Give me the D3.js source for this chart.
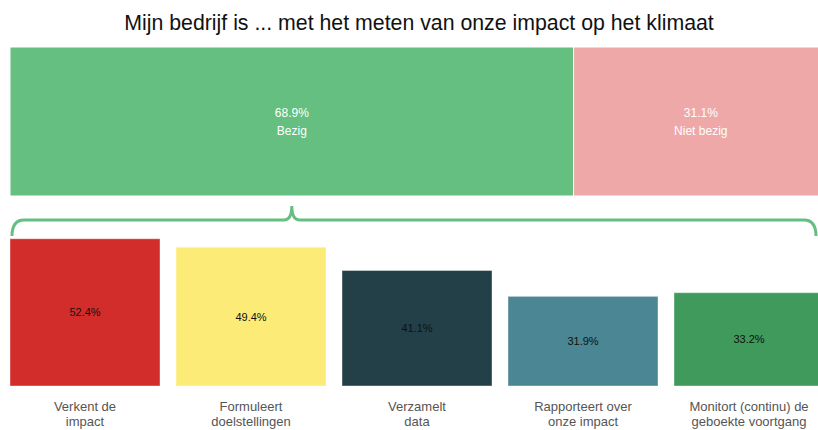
<!DOCTYPE html>
<html>
<head>
<meta charset="utf-8">
<script src="https://cdn.jsdelivr.net/npm/d3@7"></script>
<style>
  body { margin: 0; background: #fff; }
  svg { display: block; font-family: "Liberation Sans", Arial, sans-serif; }
</style>
</head>
<body>
<svg width="818" height="430"></svg>
<script>
// data
const title = 'Mijn bedrijf is ... met het meten van onze impact op het klimaat';
const splitLabels = ['Bezig', 'Niet bezig'];
const splitValues = [68.9, 31.1];
const splitColors = ['#64bf81', '#eea8a8'];

const categories = [
  ['Verkent de', 'impact'],
  ['Formuleert', 'doelstellingen'],
  ['Verzamelt', 'data'],
  ['Rapporteert over', 'onze impact'],
  ['Monitort (continu) de', 'geboekte voortgang']
];
const values = [52.4, 49.4, 41.1, 31.9, 33.2];
const barColors = ['#d32d2b', '#fdeb77', '#234048', '#4b8694', '#3f9a5b'];

const svg = d3.select('svg');

// title
svg.append('text')
  .attr('x', 419).attr('y', 30)
  .attr('text-anchor', 'middle')
  .attr('font-size', 21.3)
  .attr('fill', '#111')
  .text(title);

// top stacked bar
const x = d3.scaleLinear().domain([0, 100]).range([10, 828]);
let acc = 0;
const segs = splitValues.map((v, i) => {
  const s = {label: splitLabels[i], v: v, x0: acc, x1: acc + v, color: splitColors[i]};
  acc += v;
  return s;
});

const seg = svg.append('g').selectAll('g').data(segs).enter().append('g');
seg.append('rect')
  .attr('x', d => x(d.x0))
  .attr('y', 47)
  .attr('width', d => x(d.x1) - x(d.x0))
  .attr('height', 149)
  .attr('fill', d => d.color)
  .attr('stroke', '#fff')
  .attr('stroke-width', 1);
seg.append('text')
  .attr('x', d => (x(d.x0) + x(d.x1)) / 2)
  .attr('y', 117)
  .attr('text-anchor', 'middle')
  .attr('font-size', 12)
  .attr('fill', '#fff')
  .text(d => d.v.toFixed(1) + '%');
seg.append('text')
  .attr('x', d => (x(d.x0) + x(d.x1)) / 2)
  .attr('y', 135)
  .attr('text-anchor', 'middle')
  .attr('font-size', 12)
  .attr('fill', '#fff')
  .text(d => d.label);

// brace under "Bezig"
const px = (x(segs[0].x0) + x(segs[0].x1)) / 2;
const bl = 12, br = 816, by = 220, r = 12;
svg.append('path')
  .attr('d', `M${bl},${by + 16} Q${bl},${by} ${bl + r},${by} L${px - 8},${by} Q${px},${by} ${px},${by - 14} Q${px},${by} ${px + 8},${by} L${br - r},${by} Q${br},${by} ${br},${by + 16}`)
  .attr('fill', 'none')
  .attr('stroke', splitColors[0])
  .attr('stroke-width', 3);

// bottom bars
const xb = d3.scaleBand().domain(d3.range(values.length)).range([10, 824]).paddingInner(0.0964).paddingOuter(0);
const y = d3.scaleLinear().domain([0, 60]).range([386, 386 - 168.6]);

const bar = svg.append('g').selectAll('g').data(values).enter().append('g');
bar.append('rect')
  .attr('x', (d, i) => xb(i))
  .attr('y', d => y(d))
  .attr('width', xb.bandwidth())
  .attr('height', d => y(0) - y(d))
  .attr('fill', (d, i) => barColors[i])
  .attr('stroke', '#fff')
  .attr('stroke-opacity', 0.4)
  .attr('stroke-width', 1);
bar.append('text')
  .attr('x', (d, i) => xb(i) + xb.bandwidth() / 2)
  .attr('y', d => (y(d) + y(0)) / 2 + 4)
  .attr('text-anchor', 'middle')
  .attr('font-size', 11)
  .attr('fill', '#111')
  .text(d => d.toFixed(1) + '%');

bar.each(function (d, i) {
  const t = d3.select(this).append('text')
    .attr('text-anchor', 'middle')
    .attr('font-size', 13)
    .attr('fill', '#555');
  categories[i].forEach((line, j) => {
    t.append('tspan')
      .attr('x', xb(i) + xb.bandwidth() / 2)
      .attr('y', 411 + j * 15)
      .text(line);
  });
});
</script>
</body>
</html>
